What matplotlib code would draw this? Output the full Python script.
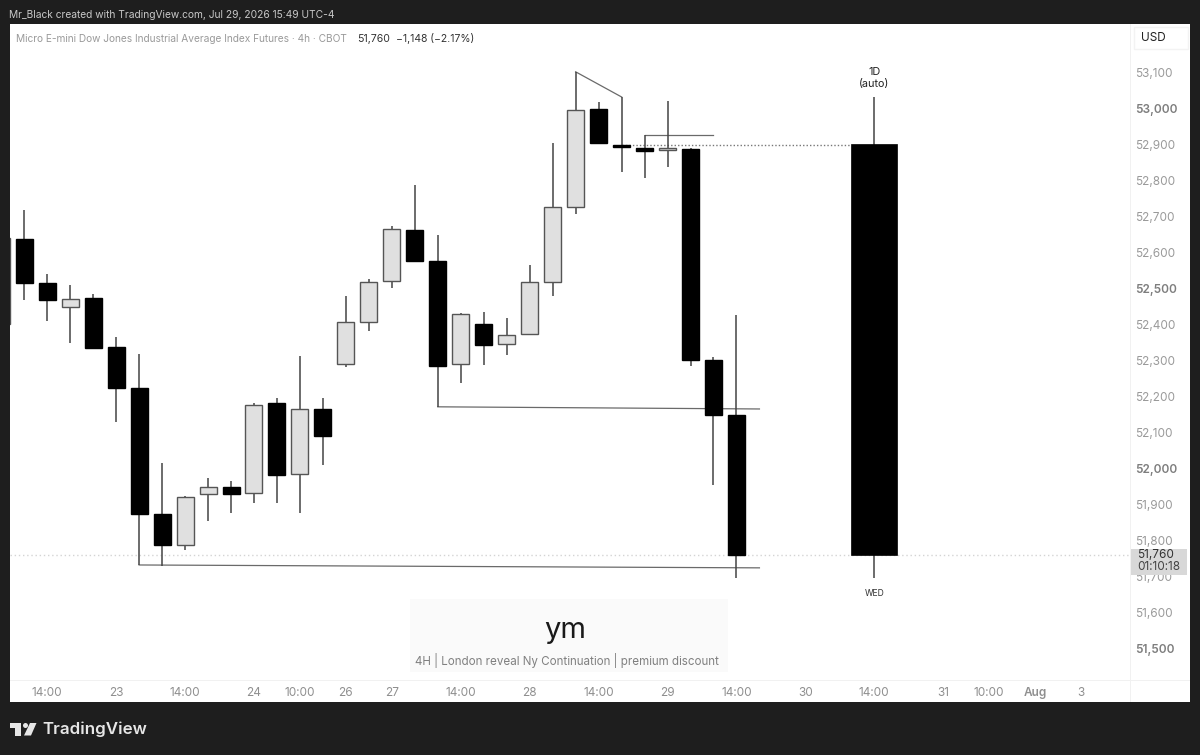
import matplotlib
matplotlib.use("Agg")
import matplotlib.pyplot as plt
from matplotlib.patches import Rectangle, Polygon, Circle
from matplotlib.transforms import Affine2D

plt.rcParams['font.family'] = ['Inter', 'DejaVu Sans']

W, H = 1200, 755

# 4h candles, first one is cut off by the left edge
idx = list(range(-1, 32))
opens = [52402, 52638, 52516, 52449, 52474, 52338, 52223, 51873, 51787, 51929, 51948, 51931,
         52182, 51984, 52165, 52290, 52407, 52521, 52663, 52577, 52290, 52402, 52346, 52374,
         52518, 52727, 53000, 52900, 52891, 52886, 52889, 52301, 52148]
highs = [52641, 52719, 52541, 52510, 52485, 52365, 52318, 52015, 51923, 51973, 51965, 52182,
         52196, 52313, 52196, 52479, 52527, 52674, 52788, 52649, 52432, 52435, 52418, 52566,
         52905, 53103, 53019, 53033, 52927, 53022, 52891, 52310, 52427]
lows = [52402, 52468, 52410, 52349, 52335, 52129, 51731, 51728, 51773, 51853, 51876, 51903,
        51903, 51876, 52009, 52282, 52382, 52502, 52574, 52171, 52237, 52287, 52315, 52371,
        52479, 52708, 52905, 52825, 52808, 52838, 52285, 51954, 51695]
closes = [52640, 52516, 52468, 52471, 52335, 52223, 51873, 51787, 51920, 51948, 51929, 52176,
          51981, 52165, 52090, 52407, 52518, 52666, 52577, 52285, 52429, 52343, 52371, 52518,
          52727, 52997, 52905, 52894, 52883, 52891, 52301, 52148, 51760]

# higher timeframe candle on the right
day_x = 37
day_open, day_high, day_low, day_close = 52902, 53033, 51695, 51760

# drawings
lines = [([5, 32], [51731, 51723]),
         ([18, 32], [52171, 52165]),
         ([24, 26], [53103, 53033]),
         ([27, 30], [52927, 52927])]
dotted_x = [26, 36]
dotted_y = [52900, 52900]
last_price = 51760

# axes labels
yticks = [51500, 51600, 51700, 51800, 51900, 52000, 52100, 52200, 52300, 52400, 52500,
          52600, 52700, 52800, 52900, 53000, 53100]
xticks = [1, 4, 7, 10, 12, 14, 16, 19, 22, 25, 28, 31, 34, 37, 40, 42, 44, 46]
xlabels = ['14:00', '23', '14:00', '24', '10:00', '26', '27', '14:00', '28', '14:00', '29',
           '14:00', '30', '14:00', '31', '10:00', 'Aug', '3']


def fx(px):
    return px / W


def fy(px):
    return 1 - px / H


def rect(x0, y0, x1, y1, **kw):
    return Rectangle((fx(x0), fy(y1)), (x1 - x0) / W, (y1 - y0) / H,
                     transform=fig.transFigure, **kw)


fig = plt.figure(figsize=(12, 7.55), dpi=100, facecolor='#1e1e1e')

# white panel behind everything
fig.add_artist(rect(10, 24, 1190, 702, facecolor='white', edgecolor='none', zorder=-1))

ax = fig.add_axes([fx(10), fy(680), 1120 / W, 656 / H])
ax.patch.set_alpha(0)
ax.set_xlim(-0.62, 48.13)
ax.set_ylim(51411, 53236)
for s in ax.spines.values():
    s.set_visible(False)

# watermark box
ax.add_patch(rect(410, 599, 728, 672, facecolor='#fafafa', edgecolor='none', zorder=0))

ax.axhline(last_price, color='#d4d4d4', lw=1, ls=(0, (1, 2)), zorder=1)
ax.plot(dotted_x, dotted_y, color='#777777', lw=1, ls=(0, (1, 1.5)), zorder=1)

for lx, ly in lines:
    ax.plot(lx, ly, color='#6a6a6a', lw=0.9, zorder=2)

# candles
for i in range(len(idx)):
    up = closes[i] >= opens[i]
    ax.vlines(idx[i], lows[i], highs[i], color='#444444', lw=1.1, zorder=3)
    ax.bar(idx[i], abs(closes[i] - opens[i]), bottom=min(opens[i], closes[i]), width=0.74,
           color='#e0e0e0' if up else 'black', edgecolor='#555555' if up else 'black',
           lw=1, zorder=4)

ax.vlines(day_x, day_low, day_high, color='#444444', lw=1.1, zorder=3)
ax.bar(day_x, day_open - day_close, bottom=day_close, width=2.0, color='black',
       edgecolor='black', lw=0.5, zorder=4)
ax.text(day_x, 53054, '1D\n(auto)', ha='center', va='bottom', fontsize=7.8, color='#222222',
        linespacing=1.3)
ax.text(day_x, 51653, 'WED', ha='center', va='center', fontsize=6.2, color='#333333')

# price scale
ax.yaxis.tick_right()
ax.set_yticks(yticks)
ax.set_yticklabels([f'{v:,}' for v in yticks])
ax.tick_params(axis='y', length=0, pad=4, labelsize=8.5, labelcolor='#9a9a9a')
for v, lab in zip(yticks, ax.get_yticklabels()):
    if v % 500 == 0:
        lab.set_fontweight('semibold')
        lab.set_color('#7e7e7e')

# time scale
ax.set_xticks(xticks)
ax.set_xticklabels(xlabels)
ax.tick_params(axis='x', length=0, pad=5, labelsize=8.5, labelcolor='#8f8f8f')
ax.get_xticklabels()[xlabels.index('Aug')].set_fontweight('semibold')

# separators
ax.add_patch(rect(1130, 24, 1131, 702, facecolor='#f1f1f1', edgecolor='none', zorder=1, clip_on=False))
ax.add_patch(rect(10, 680, 1190, 681, facecolor='#f1f1f1', edgecolor='none', zorder=1, clip_on=False))

# USD button
ax.add_patch(rect(1134, 27, 1188, 49, facecolor='white', edgecolor='#f3f3f3', lw=1, zorder=1, clip_on=False))
fig.text(fx(1141), fy(38), 'USD', fontsize=8.5, color='#222222', va='center', ha='left')

# last price tag
ax.add_patch(rect(1131, 549, 1187, 575, facecolor='#d8d8d8', edgecolor='none', zorder=5, clip_on=False))
fig.text(fx(1137), fy(555.5), '51,760', fontsize=8.5, color='#333333', va='center', ha='left', zorder=6)
fig.text(fx(1137), fy(567.5), '01:10:18', fontsize=8.5, color='#444444', va='center', ha='left', zorder=6)

# header
fig.text(fx(9), fy(15), 'Mr_Black created with TradingView.com, Jul 29, 2026 15:49 UTC-4',
         fontsize=7.35, color='#c8c8c8', va='center', ha='left')
fig.text(fx(16), fy(38.5), 'Micro E-mini Dow Jones Industrial Average Index Futures · 4h · CBOT',
         fontsize=7.3, color='#9a9a9a', va='center', ha='left')
fig.text(fx(357), fy(38.5), '51,760', fontsize=7.6, color='#333333', va='center', ha='left')
fig.text(fx(396), fy(38.5), '−1,148 (−2.17%)', fontsize=7.5, color='#333333', va='center', ha='left')

# watermark text
fig.text(fx(565), fy(630), 'ym', fontsize=21, color='#1a1a1a', va='center', ha='center')
fig.text(fx(567), fy(661), '4H | London reveal Ny Continuation | premium discount',
         fontsize=8.35, color='#808080', va='center', ha='center')

# logo
logo_c = '#e6e6e6'
fig.add_artist(rect(10, 723, 21, 728, facecolor=logo_c, edgecolor='none'))
fig.add_artist(rect(15, 723, 21, 735.5, facecolor=logo_c, edgecolor='none'))
fig.add_artist(Circle((25.5, H - 725.5), 2.5, facecolor=logo_c, edgecolor='none',
                      transform=Affine2D().scale(1 / W, 1 / H) + fig.transFigure))
fig.add_artist(Polygon([(fx(30), fy(723)), (fx(36.5), fy(723)), (fx(31), fy(735.5)), (fx(24), fy(735.5))],
                       closed=True, facecolor=logo_c, edgecolor='none', transform=fig.transFigure))
fig.text(fx(42), fy(729), 'TradingView', fontsize=12.2, fontweight='semibold', color=logo_c,
         va='center', ha='left')

fig.savefig('out.png', dpi=100, facecolor=fig.get_facecolor())
